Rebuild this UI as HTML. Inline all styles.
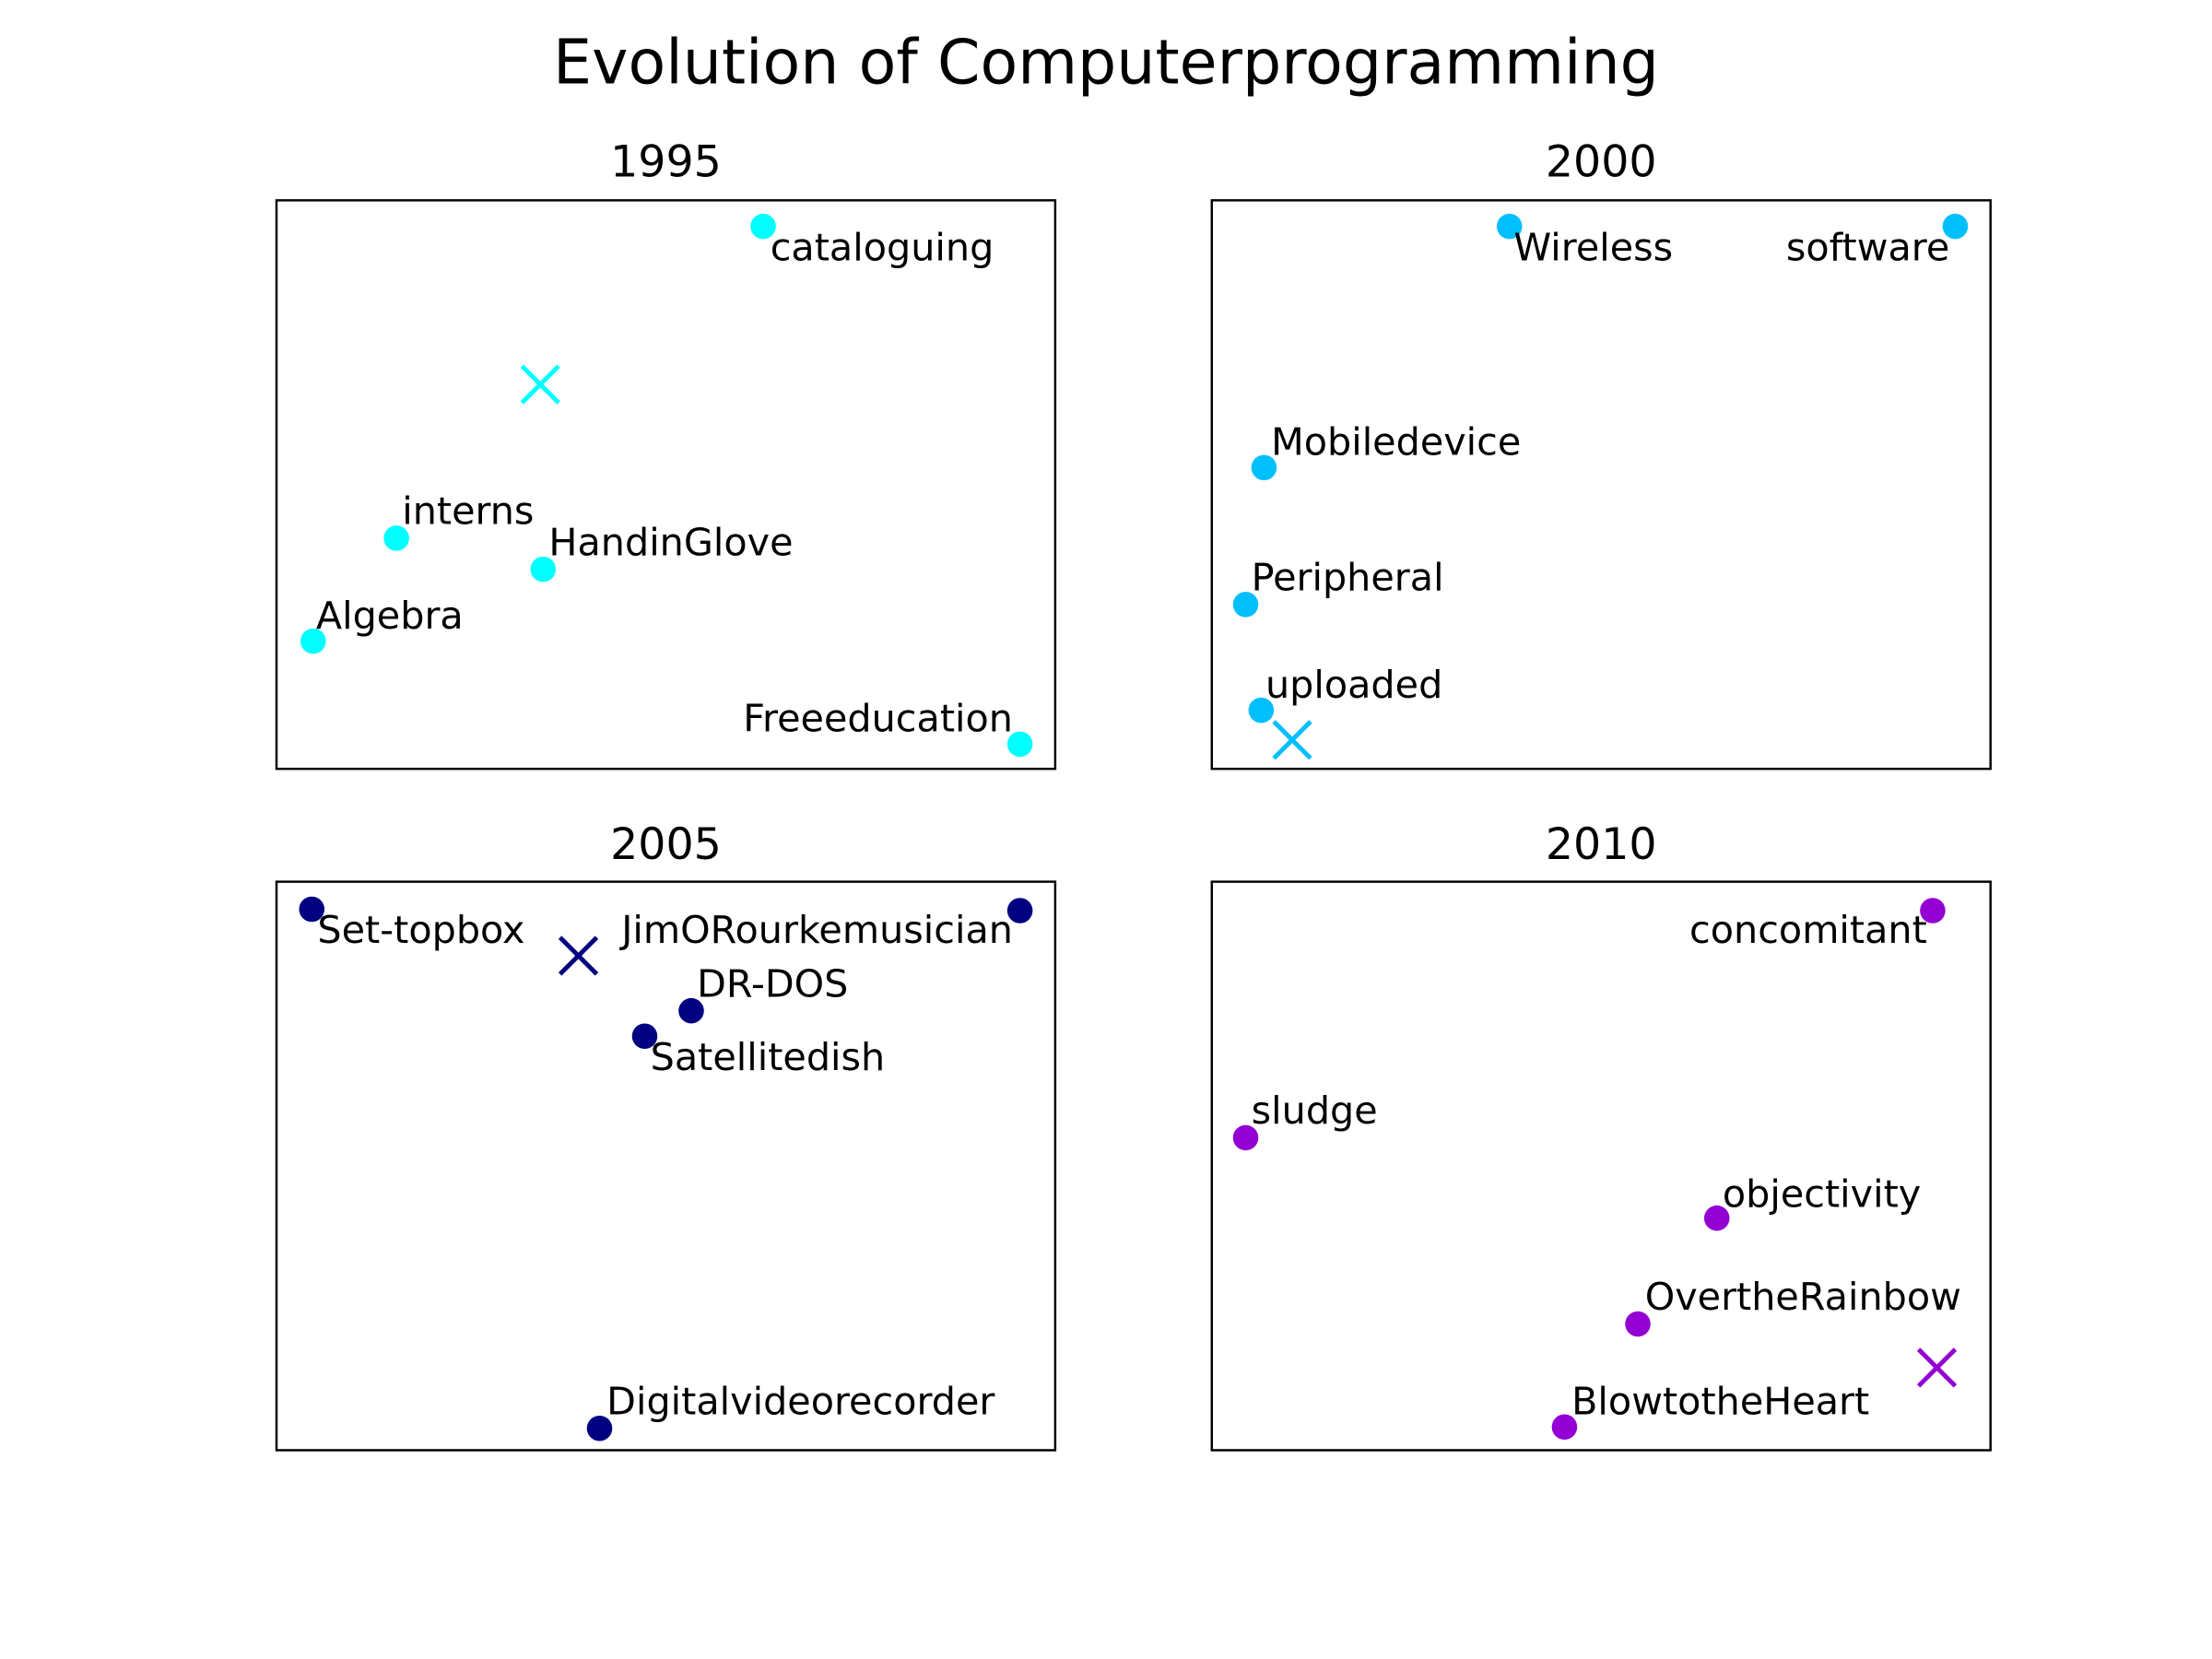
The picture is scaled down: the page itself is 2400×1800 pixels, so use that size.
<!DOCTYPE html>
<html><head><meta charset="utf-8"><style>html,body{margin:0;padding:0;background:#fff}svg{display:block}</style></head><body>
<svg width="2400" height="1800" viewBox="0 0 1568 1176" xmlns="http://www.w3.org/2000/svg" font-family="DejaVu Sans, Liberation Sans, sans-serif">
<rect width="1568" height="1176" fill="#fff"/>
<text x="784" y="59" font-size="43.5" text-anchor="middle">Evolution of Computerprogramming</text>
<g font-size="31" text-anchor="middle">
<text x="472" y="125">1995</text><text x="1135" y="125">2000</text>
<text x="472" y="609">2005</text><text x="1135" y="609">2010</text>
</g>
<g fill="none" stroke="#000" stroke-width="1.6">
<rect x="196" y="142" width="552" height="403"/><rect x="859" y="142" width="552" height="403"/>
<rect x="196" y="625" width="552" height="403"/><rect x="859" y="625" width="552" height="403"/>
</g>
<g font-size="27" transform="translate(0,1.5)">
<g fill="#00ffff"><circle cx="541" cy="159" r="9"/><circle cx="281" cy="380" r="9"/><circle cx="385" cy="402" r="9"/><circle cx="222" cy="453" r="9"/><circle cx="723" cy="526" r="9"/></g>
<path d="M370 258L396 284M396 258L370 284" stroke="#00ffff" stroke-width="3.2"/>
<text x="546" y="183">cataloguing</text><text x="285" y="370">interns</text><text x="389" y="392">HandinGlove</text><text x="224" y="444">Algebra</text><text x="718" y="517" text-anchor="end">Freeeducation</text>

<g fill="#00bfff"><circle cx="1070" cy="159" r="9"/><circle cx="1386" cy="159" r="9"/><circle cx="896" cy="330" r="9"/><circle cx="883" cy="427" r="9"/><circle cx="894" cy="502" r="9"/></g>
<path d="M903 510L929 536M929 510L903 536" stroke="#00bfff" stroke-width="3.2"/>
<text x="1073" y="183">Wireless</text><text x="1382" y="183" text-anchor="end">software</text><text x="901" y="321">Mobiledevice</text><text x="887" y="417">Peripheral</text><text x="897" y="493">uploaded</text>

<g fill="#000080"><circle cx="221" cy="643" r="9"/><circle cx="723" cy="644" r="9"/><circle cx="490" cy="715" r="9"/><circle cx="457" cy="733" r="9"/><circle cx="425" cy="1011" r="9"/></g>
<path d="M397 663L423 689M423 663L397 689" stroke="#000080" stroke-width="3.2"/>
<text x="225" y="667">Set-topbox</text><text x="718" y="667" text-anchor="end">JimORourkemusician</text><text x="494" y="705">DR-DOS</text><text x="461" y="757">Satellitedish</text><text x="430" y="1001">Digitalvideorecorder</text>

<g fill="#9400d3"><circle cx="1370" cy="644" r="9"/><circle cx="883" cy="805" r="9"/><circle cx="1217" cy="862" r="9"/><circle cx="1161" cy="937" r="9"/><circle cx="1109" cy="1010" r="9"/></g>
<path d="M1360 955L1386 981M1386 955L1360 981" stroke="#9400d3" stroke-width="3.2"/>
<text x="1366" y="667" text-anchor="end">concomitant</text><text x="887" y="795">sludge</text><text x="1221" y="854">objectivity</text><text x="1166" y="927">OvertheRainbow</text><text x="1114" y="1001">BlowtotheHeart</text>
</g>
</svg>
</body></html>
